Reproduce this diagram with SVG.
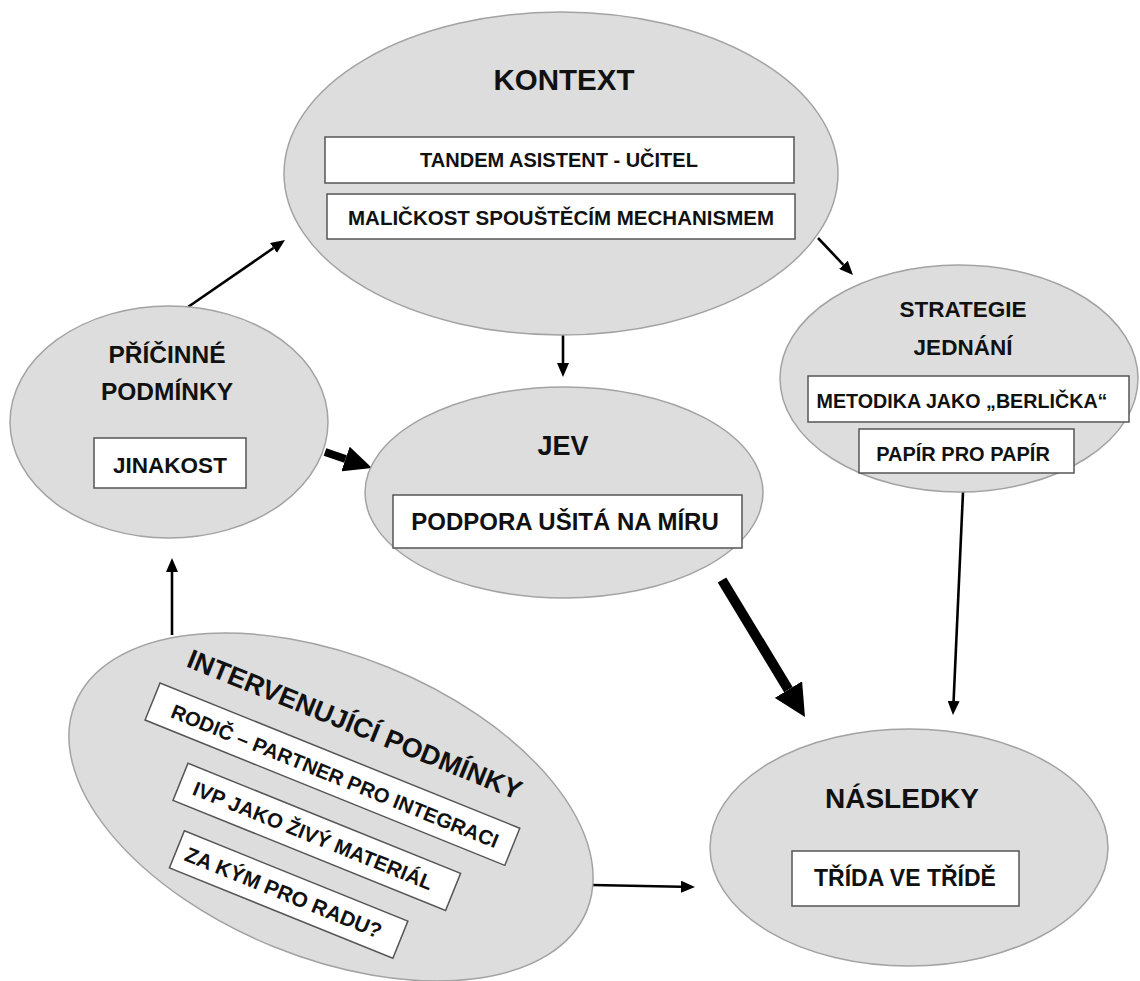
<svg xmlns="http://www.w3.org/2000/svg" width="1140" height="981" viewBox="0 0 1140 981">
<defs>
<style>
.el{fill:#dddddd;stroke:#a3a3a3;stroke-width:1.5}
.bx{fill:#ffffff;stroke:#555555;stroke-width:1.5}
text{font-family:"Liberation Sans",Arial,sans-serif;font-weight:bold;fill:#111111;text-anchor:middle}
.ln{stroke:#000;stroke-width:2.6;fill:none;marker-end:url(#ah)}
.lnb4{stroke:#000;stroke-width:8;fill:none;marker-end:url(#ahb4)}
.lnb5{stroke:#000;stroke-width:10;fill:none;marker-end:url(#ahb5)}
</style>
<marker id="ah" markerUnits="userSpaceOnUse" viewBox="0 0 14 12" refX="0" refY="6" markerWidth="14" markerHeight="12" orient="auto"><path d="M0,0 L14,6 L0,12 Z" fill="#000"/></marker>
<marker id="ahb4" markerUnits="userSpaceOnUse" viewBox="0 0 28 26" refX="0" refY="13" markerWidth="28" markerHeight="26" orient="auto"><path d="M0,0 L28,13 L0,26 Z" fill="#000"/></marker>
<marker id="ahb5" markerUnits="userSpaceOnUse" viewBox="0 0 32 32" refX="0" refY="16" markerWidth="32" markerHeight="32" orient="auto"><path d="M0,0 L32,16 L0,32 Z" fill="#000"/></marker>
</defs>
<rect width="1140" height="981" fill="#ffffff"/>

<g id="connectors">
<line class="ln" x1="188" y1="307" x2="273.5" y2="248"/>
<line class="ln" x1="818" y1="238" x2="843.4" y2="264.8"/>
<line class="ln" x1="563" y1="335" x2="563" y2="363"/>
<line class="ln" x1="963" y1="492" x2="953.6" y2="701"/>
<line class="ln" x1="172" y1="635" x2="172" y2="572"/>
<line class="ln" x1="592" y1="885" x2="681" y2="886.7"/>
<line class="lnb4" x1="325" y1="452" x2="345.5" y2="459"/>
<line class="lnb5" x1="722" y1="580" x2="788.4" y2="689.6"/>
</g>

<g id="kontext">
<ellipse class="el" cx="561" cy="173.5" rx="277" ry="161.5"/>
<text x="564" y="90" font-size="29.5">KONTEXT</text>
<rect class="bx" x="325" y="137" width="469" height="46"/>
<text x="559" y="167" font-size="20">TANDEM ASISTENT - UČITEL</text>
<rect class="bx" x="327" y="194" width="468" height="45"/>
<text x="561" y="225" font-size="20.5">MALIČKOST SPOUŠTĚCÍM MECHANISMEM</text>
</g>

<g id="pricinne">
<ellipse class="el" cx="169" cy="422" rx="159" ry="116"/>
<text x="167" y="363" font-size="24.5">PŘÍČINNÉ</text>
<text x="167" y="400" font-size="24.5">PODMÍNKY</text>
<rect class="bx" x="94" y="438" width="152" height="50"/>
<text x="170" y="473" font-size="22.5">JINAKOST</text>
</g>

<g id="strategie">
<ellipse class="el" cx="959" cy="378.5" rx="179" ry="113.5"/>
<text x="963" y="317" font-size="22.5">STRATEGIE</text>
<text x="963" y="355" font-size="22.5">JEDNÁNÍ</text>
<rect class="bx" x="808" y="376" width="321" height="46"/>
<text x="962" y="408" font-size="19.7">METODIKA JAKO „BERLIČKA“</text>
<rect class="bx" x="859" y="429" width="215" height="44"/>
<text x="963" y="461" font-size="20">PAPÍR PRO PAPÍR</text>
</g>

<g id="jev">
<ellipse class="el" cx="564" cy="492.5" rx="199" ry="105.5"/>
<text x="563" y="455" font-size="27">JEV</text>
<rect class="bx" x="393" y="495" width="349" height="53"/>
<text x="565" y="530" font-size="24">PODPORA UŠITÁ NA MÍRU</text>
</g>

<g id="nasledky">
<ellipse class="el" cx="909" cy="847.5" rx="199" ry="118.5"/>
<text x="902" y="808" font-size="28">NÁSLEDKY</text>
<rect class="bx" x="792" y="851" width="227" height="55"/>
<text x="905" y="886" font-size="23">TŘÍDA VE TŘÍDĚ</text>
</g>

<g id="intervenujici" transform="translate(331,807) rotate(22)">
<ellipse class="el" cx="0" cy="0" rx="276" ry="151"/>
<text x="-9" y="-76" font-size="27">INTERVENUJÍCÍ PODMÍNKY</text>
<rect class="bx" x="-205" y="-51" width="388" height="40"/>
<text x="-8" y="-23" font-size="20.3">RODIČ – PARTNER PRO INTEGRACI</text>
<rect class="bx" x="-149" y="13" width="294" height="40"/>
<text x="-6" y="40.5" font-size="20.5">IVP JAKO ŽIVÝ MATERIÁL</text>
<rect class="bx" x="-127" y="77" width="241" height="40"/>
<text x="-12" y="104.5" font-size="21">ZA KÝM PRO RADU?</text>
</g>
</svg>
